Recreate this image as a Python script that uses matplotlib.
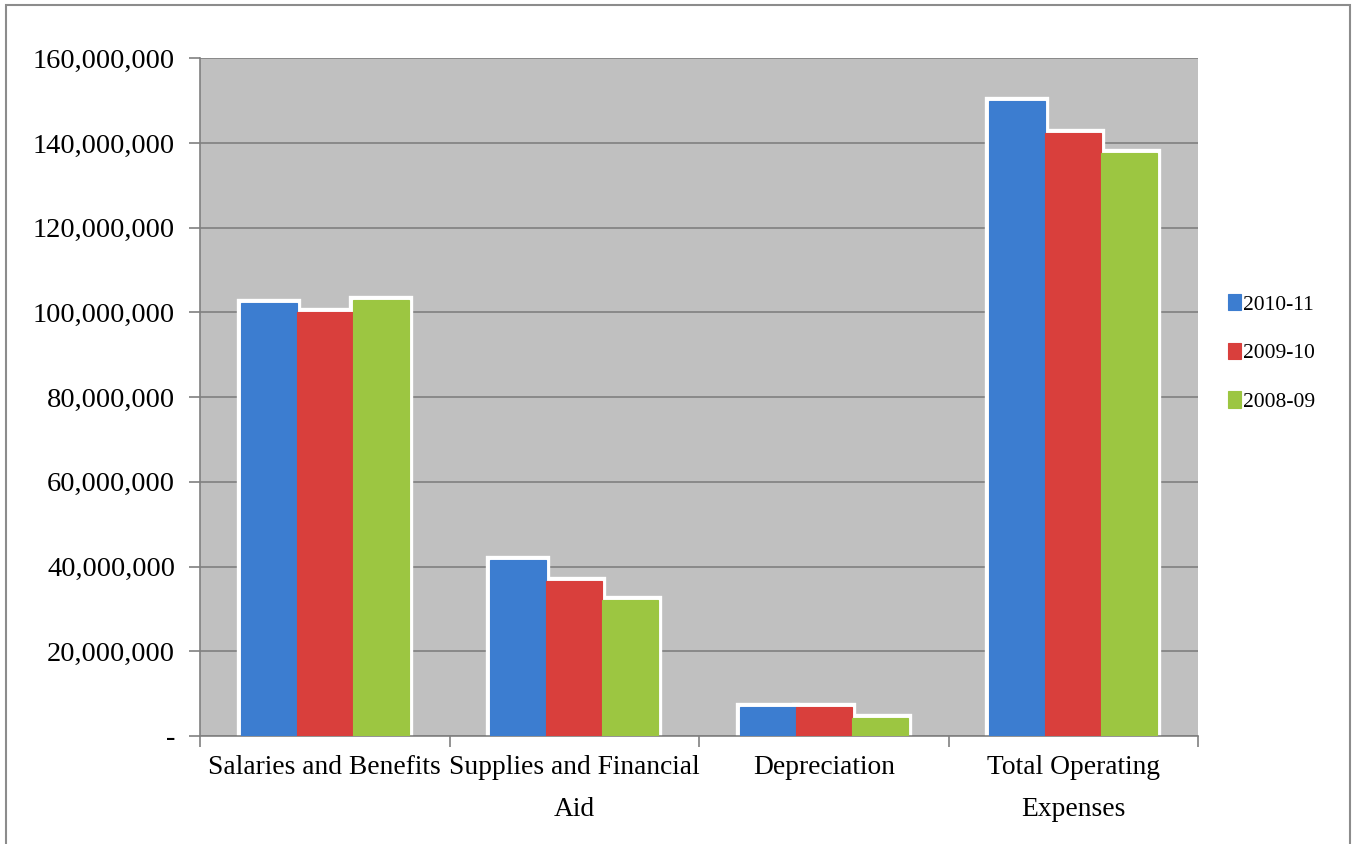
import matplotlib
matplotlib.use("Agg")
import matplotlib.pyplot as plt
import numpy as np
from matplotlib.ticker import FuncFormatter, FixedLocator
from matplotlib.patches import Rectangle

categories = ["Salaries and Benefits", "Supplies and Financial\nAid", "Depreciation", "Total Operating\nExpenses"]
series_names = ["2010-11", "2009-10", "2008-09"]
v2010_11 = [102200000, 41500000, 6800000, 149900000]
v2009_10 = [100000000, 36600000, 6800000, 142300000]
v2008_09 = [102900000, 32100000, 4200000, 137600000]
yticks = [0, 20000000, 40000000, 60000000, 80000000, 100000000, 120000000, 140000000, 160000000]

colors = ["#3C7DD0", "#D93F3C", "#9CC641"]
series = [v2010_11, v2009_10, v2008_09]

plt.rcParams['font.family'] = ['Liberation Serif', 'DejaVu Serif']

fig = plt.figure(figsize=(13.56, 8.44), dpi=100)
fig.patches.append(Rectangle((0.0045, -0.01), 0.991, 1.004, transform=fig.transFigure,
                             fill=False, edgecolor="#8c8c8c", linewidth=1.5))
ax = fig.add_axes([0.1475, 0.128, 0.736, 0.803])
ax.set_facecolor("#C0C0C0")

x = np.arange(len(categories))
w = 0.225
for i, (vals, c, name) in enumerate(zip(series, colors, series_names)):
    pos = x + (i - 1) * w
    ax.bar(pos, vals, width=w, color="white", edgecolor="white", linewidth=6, zorder=2)
for i, (vals, c, name) in enumerate(zip(series, colors, series_names)):
    pos = x + (i - 1) * w
    ax.bar(pos, vals, width=w, color=c, edgecolor=c, linewidth=0.8, zorder=3, label=name)

ax.set_xlim(-0.5, len(categories) - 0.5)
ax.set_ylim(0, 160000000)
ax.yaxis.set_major_locator(FixedLocator(yticks))
ax.yaxis.set_major_formatter(FuncFormatter(lambda v, p: "-" if v == 0 else f"{int(v):,}"))
ax.grid(axis='y', color="#808080", linewidth=1.2, zorder=1)
ax.set_axisbelow(True)

ax.set_xticks(x)
ax.set_xticklabels(categories, fontsize=19.8, linespacing=1.85, va='top')
ax.tick_params(axis='x', length=0, pad=14)
ax.set_xticks(np.arange(len(categories) + 1) - 0.5, minor=True)
ax.tick_params(axis='x', which='minor', length=8, color="#808080", width=1.2)
ax.tick_params(axis='y', labelsize=20.5, length=8, color="#808080", width=1.2, pad=10)

for s in ['top', 'right']:
    ax.spines[s].set_visible(False)
for s in ['left', 'bottom']:
    ax.spines[s].set_color("#808080")
    ax.spines[s].set_linewidth(1.2)

leg = ax.legend(loc='center left', bbox_to_anchor=(1.0, 0.565), frameon=False, fontsize=15.5,
                handlelength=0.6, handleheight=0.8, handletextpad=0.1, labelspacing=1.3,
                borderaxespad=1.0)

fig.savefig("out.png", dpi=100)
